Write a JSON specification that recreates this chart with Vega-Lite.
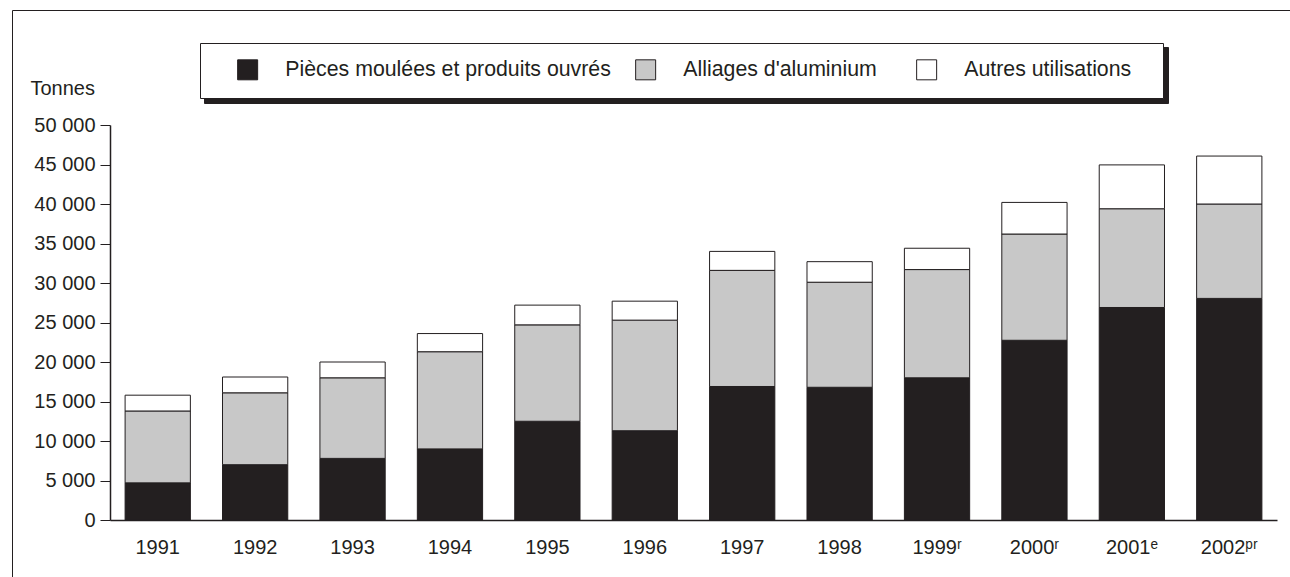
{
  "$schema": "https://vega.github.io/schema/vega-lite/v6.json",
  "autosize": {"type": "none"},
  "padding": {"left": 12, "top": 10, "right": 0, "bottom": 0},
  "width": 1278,
  "height": 567,
  "background": "white",
  "view": {"stroke": null},
  "config": {
    "view": {"stroke": "transparent"},
    "font": "Liberation Sans",
    "axis": {"labelFont": "Liberation Sans", "labelColor": "#231f20", "domainColor": "#231f20", "tickColor": "#231f20", "grid": false}
  },
  "data": {
    "values": [
      {"year": "1991", "cat": "Pièces moulées et produits ouvrés", "ord": 1, "v": 4700},
      {"year": "1991", "cat": "Alliages d'aluminium", "ord": 2, "v": 9100},
      {"year": "1991", "cat": "Autres utilisations", "ord": 3, "v": 2000},
      {"year": "1992", "cat": "Pièces moulées et produits ouvrés", "ord": 1, "v": 7000},
      {"year": "1992", "cat": "Alliages d'aluminium", "ord": 2, "v": 9100},
      {"year": "1992", "cat": "Autres utilisations", "ord": 3, "v": 2000},
      {"year": "1993", "cat": "Pièces moulées et produits ouvrés", "ord": 1, "v": 7800},
      {"year": "1993", "cat": "Alliages d'aluminium", "ord": 2, "v": 10200},
      {"year": "1993", "cat": "Autres utilisations", "ord": 3, "v": 2000},
      {"year": "1994", "cat": "Pièces moulées et produits ouvrés", "ord": 1, "v": 9000},
      {"year": "1994", "cat": "Alliages d'aluminium", "ord": 2, "v": 12300},
      {"year": "1994", "cat": "Autres utilisations", "ord": 3, "v": 2300},
      {"year": "1995", "cat": "Pièces moulées et produits ouvrés", "ord": 1, "v": 12500},
      {"year": "1995", "cat": "Alliages d'aluminium", "ord": 2, "v": 12200},
      {"year": "1995", "cat": "Autres utilisations", "ord": 3, "v": 2500},
      {"year": "1996", "cat": "Pièces moulées et produits ouvrés", "ord": 1, "v": 11300},
      {"year": "1996", "cat": "Alliages d'aluminium", "ord": 2, "v": 14000},
      {"year": "1996", "cat": "Autres utilisations", "ord": 3, "v": 2400},
      {"year": "1997", "cat": "Pièces moulées et produits ouvrés", "ord": 1, "v": 16900},
      {"year": "1997", "cat": "Alliages d'aluminium", "ord": 2, "v": 14700},
      {"year": "1997", "cat": "Autres utilisations", "ord": 3, "v": 2400},
      {"year": "1998", "cat": "Pièces moulées et produits ouvrés", "ord": 1, "v": 16800},
      {"year": "1998", "cat": "Alliages d'aluminium", "ord": 2, "v": 13300},
      {"year": "1998", "cat": "Autres utilisations", "ord": 3, "v": 2600},
      {"year": "1999ʳ", "cat": "Pièces moulées et produits ouvrés", "ord": 1, "v": 18000},
      {"year": "1999ʳ", "cat": "Alliages d'aluminium", "ord": 2, "v": 13700},
      {"year": "1999ʳ", "cat": "Autres utilisations", "ord": 3, "v": 2700},
      {"year": "2000ʳ", "cat": "Pièces moulées et produits ouvrés", "ord": 1, "v": 22750},
      {"year": "2000ʳ", "cat": "Alliages d'aluminium", "ord": 2, "v": 13450},
      {"year": "2000ʳ", "cat": "Autres utilisations", "ord": 3, "v": 4000},
      {"year": "2001ᵉ", "cat": "Pièces moulées et produits ouvrés", "ord": 1, "v": 26900},
      {"year": "2001ᵉ", "cat": "Alliages d'aluminium", "ord": 2, "v": 12500},
      {"year": "2001ᵉ", "cat": "Autres utilisations", "ord": 3, "v": 5550},
      {"year": "2002ᵖʳ", "cat": "Pièces moulées et produits ouvrés", "ord": 1, "v": 28050},
      {"year": "2002ᵖʳ", "cat": "Alliages d'aluminium", "ord": 2, "v": 11950},
      {"year": "2002ᵖʳ", "cat": "Autres utilisations", "ord": 3, "v": 6070}
    ]
  },
  "layer": [
    {
      "mark": {"type": "bar", "stroke": "#231f20", "strokeWidth": 1},
      "encoding": {
        "x": {
          "field": "year", "type": "ordinal", "sort": null,
          "scale": {"range": [98, 1265], "paddingInner": 0.33, "paddingOuter": 0.155},
          "axis": {"title": null, "orient": "bottom", "offset": -57, "ticks": false, "labelAngle": 0, "labelFontSize": 20, "labelPadding": 17, "domainWidth": 1.5}
        },
        "y": {
          "field": "v", "type": "quantitative", "stack": "zero",
          "scale": {"domain": [0, 50000], "range": [510, 115], "nice": false, "zero": true},
          "axis": {
            "orient": "left", "offset": -98, "values": [0, 5000, 10000, 15000, 20000, 25000, 30000, 35000, 40000, 45000, 50000],
            "labelExpr": "replace(format(datum.value, ','), ',', ' ')",
            "labelFontSize": 20, "tickSize": 10, "labelPadding": 5, "domainWidth": 1.5,
            "title": "Tonnes", "titleAngle": 0, "titleX": -80, "titleY": 78, "titleAlign": "left", "titleBaseline": "middle",
            "titleFont": "Liberation Sans", "titleFontSize": 20, "titleFontWeight": "normal", "titleColor": "#231f20"
          }
        },
        "fill": {
          "field": "cat", "type": "nominal",
          "scale": {"domain": ["Pièces moulées et produits ouvrés", "Alliages d'aluminium", "Autres utilisations"], "range": ["#231f20", "#c8c8c8", "#ffffff"]},
          "legend": {
            "title": null, "orient": "none", "legendX": 188, "legendY": 33, "direction": "horizontal", "columns": 3, "zindex": 2,
            "fillColor": "white", "strokeColor": "#231f20", "padding": 16, "symbolOffset": 21,
            "symbolType": "square", "symbolSize": 400, "symbolStrokeColor": "#231f20", "symbolStrokeWidth": 1,
            "labelFont": "Liberation Sans", "labelFontSize": 21.3, "labelColor": "#231f20", "labelOffset": 27, "columnPadding": 3, "labelLimit": 600,
            "labelExpr": "datum.label == 'Pièces moulées et produits ouvrés' ? datum.label : datum.label + '\u2800'"
          }
        },
        "order": {"field": "ord", "type": "quantitative"}
      }
    },
    {
      "mark": {"type": "point", "opacity": 0},
      "encoding": {
        "x": {
          "field": "ord", "type": "quantitative",
          "scale": {"domain": [0, 1], "range": [0, 1400], "nice": false, "zero": false},
          "axis": {"orient": "top", "title": null, "labels": false, "ticks": false, "domainColor": "#231f20", "domainWidth": 1, "offset": 0}
        },
        "y": {
          "field": "ord", "type": "quantitative",
          "scale": {"domain": [0, 1], "range": [0, 700], "nice": false, "zero": false},
          "axis": {"orient": "left", "title": null, "labels": false, "ticks": false, "domainColor": "#231f20", "domainWidth": 1, "offset": 0}
        },
        "stroke": {
          "field": "cat", "type": "nominal",
          "scale": {"domain": ["Autres utilisations"], "range": ["#231f20"]},
          "legend": {
            "title": null, "orient": "none", "legendX": 192, "legendY": 37, "direction": "horizontal", "zindex": 1,
            "fillColor": "#231f20", "strokeColor": "#231f20", "padding": 16, "symbolOffset": 908,
            "symbolType": "square", "symbolSize": 529, "symbolStrokeColor": "#231f20", "symbolStrokeWidth": 1, "symbolOpacity": 0,
            "labelFontSize": 1, "labelOffset": 0, "labelExpr": "''"
          }
        }
      }
    }
  ],
  "resolve": {"scale": {"x": "independent", "y": "independent", "fill": "independent", "stroke": "independent"}, "axis": {"x": "independent", "y": "independent"}}
}
